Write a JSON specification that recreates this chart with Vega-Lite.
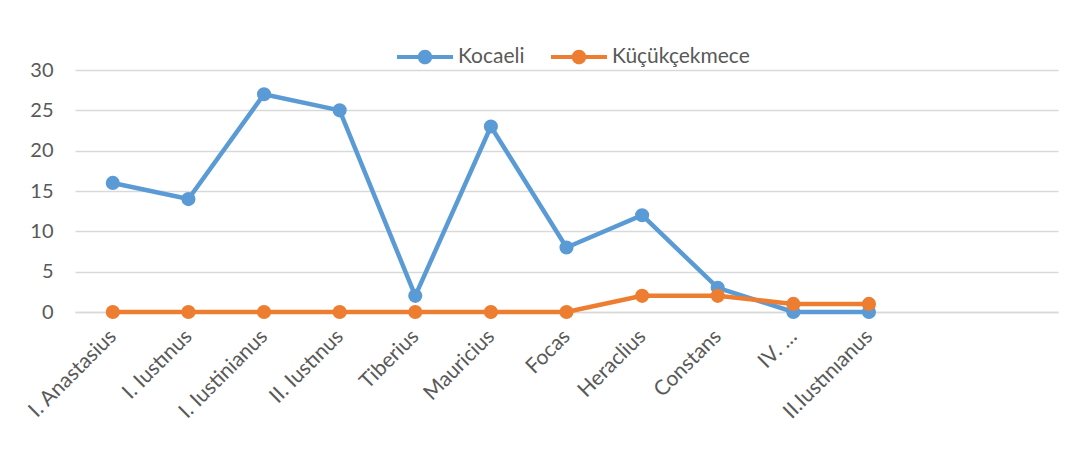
{
  "$schema": "https://vega.github.io/schema/vega-lite/v6.json",
  "width": 983,
  "height": 242,
  "autosize": {"type": "none"},
  "padding": {"left": 75, "top": 70, "right": 27, "bottom": 145},
  "background": "white",
  "config": {
    "view": {"stroke": null},
    "font": "Lato",
    "axis": {"labelFont": "Lato", "labelColor": "#595959", "labelFontSize": 20}
  },
  "data": {
    "values": [
      {"ruler": "I. Anastasius", "series": "Kocaeli", "value": 16},
      {"ruler": "I. Iustınus", "series": "Kocaeli", "value": 14},
      {"ruler": "I. Iustinianus", "series": "Kocaeli", "value": 27},
      {"ruler": "II. Iustınus", "series": "Kocaeli", "value": 25},
      {"ruler": "Tiberius", "series": "Kocaeli", "value": 2},
      {"ruler": "Mauricius", "series": "Kocaeli", "value": 23},
      {"ruler": "Focas", "series": "Kocaeli", "value": 8},
      {"ruler": "Heraclius", "series": "Kocaeli", "value": 12},
      {"ruler": "Constans", "series": "Kocaeli", "value": 3},
      {"ruler": "IV. …", "series": "Kocaeli", "value": 0},
      {"ruler": "II.Iustınıanus", "series": "Kocaeli", "value": 0},
      {"ruler": "I. Anastasius", "series": "Küçükçekmece", "value": 0},
      {"ruler": "I. Iustınus", "series": "Küçükçekmece", "value": 0},
      {"ruler": "I. Iustinianus", "series": "Küçükçekmece", "value": 0},
      {"ruler": "II. Iustınus", "series": "Küçükçekmece", "value": 0},
      {"ruler": "Tiberius", "series": "Küçükçekmece", "value": 0},
      {"ruler": "Mauricius", "series": "Küçükçekmece", "value": 0},
      {"ruler": "Focas", "series": "Küçükçekmece", "value": 0},
      {"ruler": "Heraclius", "series": "Küçükçekmece", "value": 2},
      {"ruler": "Constans", "series": "Küçükçekmece", "value": 2},
      {"ruler": "IV. …", "series": "Küçükçekmece", "value": 1},
      {"ruler": "II.Iustınıanus", "series": "Küçükçekmece", "value": 1}
    ]
  },
  "encoding": {
    "x": {
      "field": "ruler", "type": "nominal",
      "scale": {"domain": ["I. Anastasius", "I. Iustınus", "I. Iustinianus", "II. Iustınus", "Tiberius", "Mauricius", "Focas", "Heraclius", "Constans", "IV. …", "II.Iustınıanus", " ", "  "], "paddingInner": 0, "paddingOuter": 0},
      "axis": {"title": null, "labelAngle": -45, "labelAlign": "right", "labelBaseline": "middle", "labelFontSize": 21, "ticks": false, "domainColor": "#d9d9d9", "domainWidth": 1.5, "labelPadding": 21, "grid": false}
    },
    "y": {
      "field": "value", "type": "quantitative",
      "scale": {"domain": [0, 30], "nice": false},
      "axis": {"title": null, "values": [0, 5, 10, 15, 20, 25, 30], "gridColor": "#d9d9d9", "gridWidth": 1.5, "domain": false, "ticks": false, "labelPadding": 22}
    },
    "color": {
      "field": "series", "type": "nominal",
      "scale": {"domain": ["Kocaeli", "Küçükçekmece"], "range": ["#5B9BD5", "#ED7D31"]},
      "legend": {
        "title": null, "orient": "none", "direction": "horizontal",
        "legendX": 322, "legendY": -41,
        "symbolType": "M-1,-0.075H-0.24V0.075H-1Z M0.24,-0.075H1V0.075H0.24Z M-0.26,0A0.26,0.26 0 1,1 0.26,0A0.26,0.26 0 1,1 -0.26,0Z",
        "symbolSize": 3136, "symbolStrokeWidth": 0, "symbolOpacity": 1,
        "labelFont": "Lato", "labelFontSize": 21, "labelColor": "#595959",
        "labelOffset": 5, "columnPadding": 26
      }
    }
  },
  "layer": [
    {"mark": {"type": "line", "strokeWidth": 4.5}},
    {"mark": {"type": "point", "filled": true, "opacity": 1, "size": 200}}
  ]
}
